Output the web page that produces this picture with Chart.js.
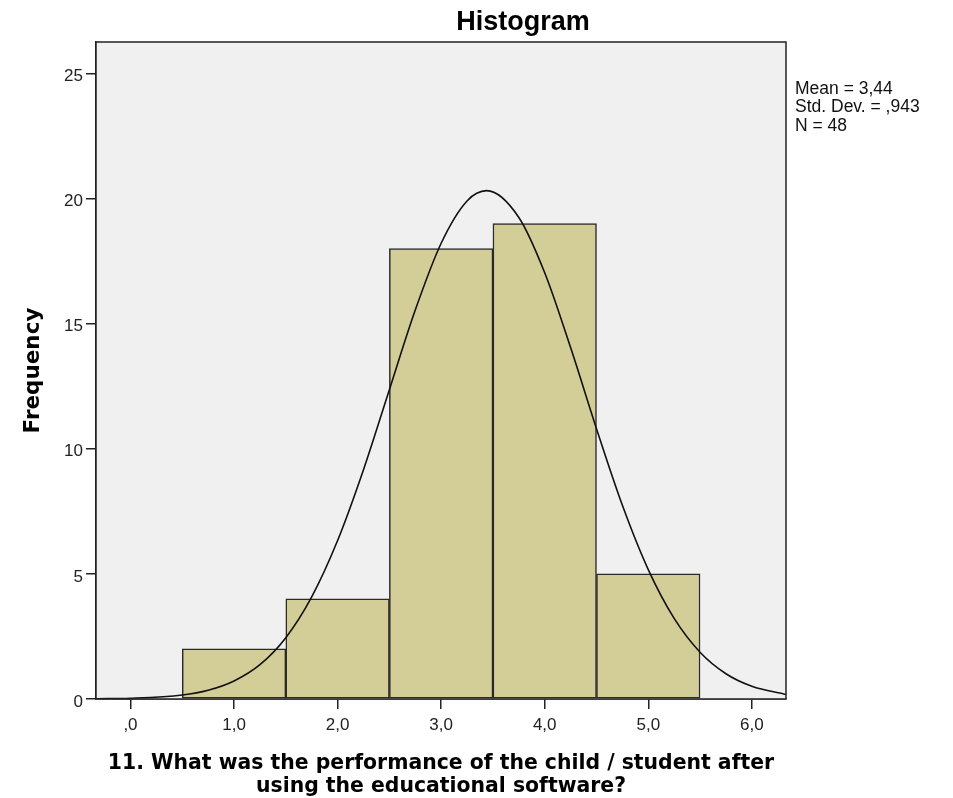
<!DOCTYPE html>
<html>
<head>
<meta charset="utf-8">
<script src="https://cdn.jsdelivr.net/npm/chart.js@4/dist/chart.umd.min.js"></script>
<style>
  html, body { margin: 0; padding: 0; background: #ffffff; }
  #wrap { width: 953px; height: 798px; position: relative; }
</style>
</head>
<body>
<div id="wrap"><canvas id="c" width="953" height="798"></canvas></div>
<script>
// ---- data ----
const binCenters = [1, 2, 3, 4, 5];
const binCounts = [2, 4, 18, 19, 5];
const curveX = [-0.33, 0, 0.5, 0.75, 1.0, 1.25, 1.5, 1.75, 2.0, 2.25, 2.5, 2.75, 3.0, 3.25, 3.44, 3.75, 4.0, 4.25, 4.5, 4.75, 5.0, 5.25, 5.5, 5.75, 6.0, 6.33];
const curveY = [0.01, 0.03, 0.16, 0.35, 0.72, 1.37, 2.45, 4.08, 6.33, 9.16, 12.36, 15.54, 18.21, 19.90, 20.31, 19.24, 17.03, 14.04, 10.80, 7.74, 5.17, 3.22, 1.87, 1.01, 0.51, 0.18];
const xTickValues = [0, 1, 2, 3, 4, 5, 6];
const xTickLabels = [',0', '1,0', '2,0', '3,0', '4,0', '5,0', '6,0'];
const yTickValues = [0, 5, 10, 15, 20, 25];
const yTickLabels = ['0', '5', '10', '15', '20', '25'];
const titleText = 'Histogram';
const xTitle = ['11. What was the performance of the child / student after', 'using the educational software?'];
const yTitle = 'Frequency';
const statsLines = ['Mean = 3,44', 'Std. Dev. = ,943', 'N = 48'];

const barData = binCenters.map((x, i) => ({ x: x, y: binCounts[i] }));
const curveData = curveX.map((x, i) => ({ x: x, y: curveY[i] }));

const frameColor = '#222222';

const framePlugin = {
  id: 'frame',
  beforeDatasetsDraw(chart) {
    const { ctx, chartArea: a } = chart;
    ctx.save();
    ctx.fillStyle = '#f0f0f0';
    ctx.fillRect(a.left, a.top, a.right - a.left, a.bottom - a.top);
    ctx.restore();
  },
  afterDatasetsDraw(chart) {
    const { ctx, chartArea: a } = chart;
    ctx.save();
    ctx.strokeStyle = frameColor;
    ctx.lineWidth = 1.5;
    ctx.strokeRect(a.left, a.top, a.right - a.left, a.bottom - a.top);
    ctx.restore();
  },
  afterDraw(chart) {
    const { ctx } = chart;
    ctx.save();
    ctx.fillStyle = '#000';
    ctx.textAlign = 'center';
    ctx.textBaseline = 'alphabetic';
    ctx.font = 'bold 27px "Liberation Sans", Arial, sans-serif';
    ctx.fillText(titleText, 523, 30);
    ctx.textAlign = 'left';
    ctx.font = '17.5px "Liberation Sans", Arial, sans-serif';
    ctx.fillStyle = '#111';
    statsLines.forEach((t, i) => ctx.fillText(t, 795, 94 + i * 18.3));
    ctx.restore();
  }
};

new Chart(document.getElementById('c'), {
  type: 'scatter',
  data: {
    datasets: [
      {
        type: 'line',
        data: curveData,
        borderColor: '#111',
        borderWidth: 1.6,
        pointRadius: 0,
        fill: false,
        showLine: true,
        cubicInterpolationMode: 'monotone',
        order: 0
      },
      {
        type: 'bar',
        data: barData,
        backgroundColor: '#d3ce97',
        borderColor: '#2a2a2a',
        borderWidth: 1.5,
        borderSkipped: false,
        barPercentage: 1.0,
        categoryPercentage: 1.0,
        order: 1
      }
    ]
  },
  options: {
    responsive: false,
    animation: false,
    devicePixelRatio: 1,
    layout: { padding: { top: 42, right: 167, left: 0, bottom: 0 } },
    plugins: { legend: { display: false }, tooltip: { enabled: false }, title: { display: false } },
    scales: {
      x: {
        type: 'linear',
        min: -0.333,
        max: 6.33,
        offset: false,
        afterFit(s) { s.height = 99; },
        afterBuildTicks(s) { s.ticks = xTickValues.map(v => ({ value: v })); },
        grid: { display: true, drawOnChartArea: false, offset: false, drawTicks: true, tickLength: 10, color: frameColor, lineWidth: 1.5 },
        border: { display: true, color: frameColor, width: 1.5 },
        ticks: {
          autoSkip: false, maxRotation: 0, padding: 6,
          color: '#222',
          font: { family: '"Liberation Sans", Arial, sans-serif', size: 17 },
          callback: (v) => { const i = xTickValues.indexOf(v); return i >= 0 ? xTickLabels[i] : ''; }
        },
        title: {
          display: true,
          text: xTitle,
          color: '#000',
          font: { family: '"DejaVu Sans", Verdana, sans-serif', size: 20.4, weight: 'bold', lineHeight: 1.13 },
          padding: { top: 0, bottom: 0 }
        }
      },
      y: {
        type: 'linear',
        min: 0,
        max: 26.25,
        afterFit(s) { s.width = 96; },
        afterBuildTicks(s) { s.ticks = yTickValues.map(v => ({ value: v })); },
        grid: { display: true, drawOnChartArea: false, drawTicks: true, tickLength: 10, color: frameColor, lineWidth: 1.5 },
        border: { display: true, color: frameColor, width: 1.5 },
        ticks: {
          autoSkip: false, padding: 3, labelOffset: 3,
          color: '#222',
          font: { family: '"Liberation Sans", Arial, sans-serif', size: 17 },
          callback: (v) => { const i = yTickValues.indexOf(v); return i >= 0 ? yTickLabels[i] : ''; }
        },
        title: {
          display: true,
          text: yTitle,
          color: '#000',
          font: { family: '"DejaVu Sans", Verdana, sans-serif', size: 21.5, weight: 'bold', lineHeight: 1.2 },
          padding: { top: 21, bottom: 0 }
        }
      }
    }
  },
  plugins: [framePlugin]
});
</script>
</body>
</html>
